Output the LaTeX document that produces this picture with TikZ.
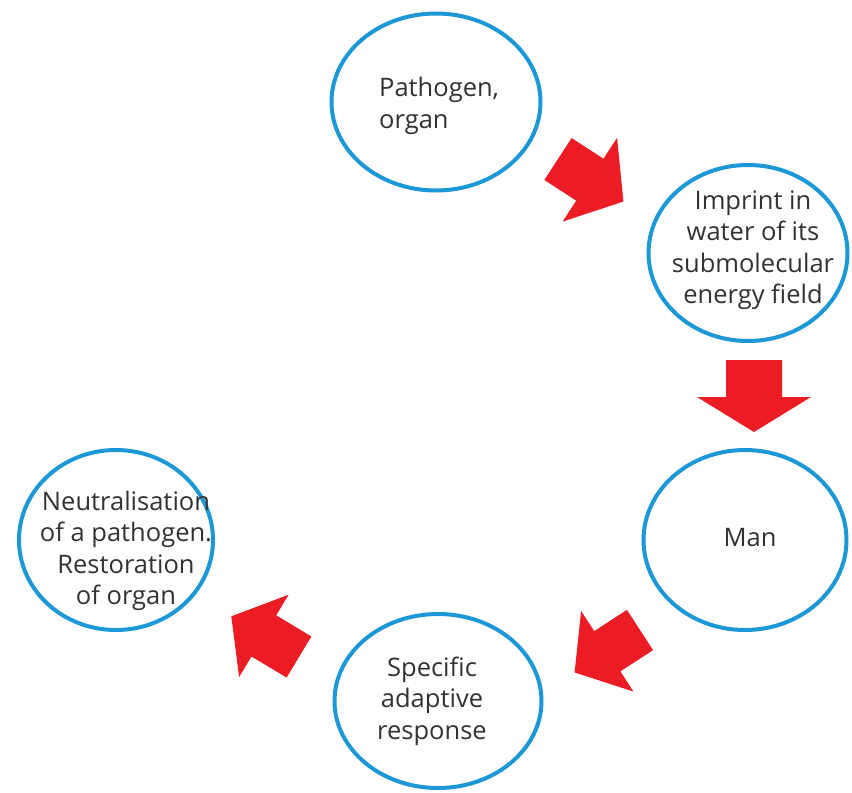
\documentclass[tikz,border=0pt]{standalone}
\usepackage{fontspec}
\setmainfont{Open Sans}
\usetikzlibrary{shapes.geometric}
\definecolor{ringblue}{RGB}{29,152,214}
\definecolor{arrowred}{RGB}{236,28,36}
\definecolor{txtgray}{RGB}{50,50,50}
% tail midpoint, angle, length, head length, shaft half width, head half width
\newcommand\blkarrow[6]{%
  \fill[arrowred, shift={#1}, rotate=#2] (0,-#5) -- ({#3-#4},-#5) -- ({#3-#4},-#6) -- (#3,0) -- ({#3-#4},#6) -- ({#3-#4},#5) -- (0,#5) -- cycle;}
\begin{document}
\begin{tikzpicture}[x=1pt,y=1pt,
  ring/.style={ellipse, draw=ringblue, line width=4pt, inner sep=0pt},
  lbl/.style={text=txtgray, font=\fontsize{25.5}{31.5}\selectfont, align=center, inner sep=0pt}]
\path[use as bounding box, fill=white] (0,0) rectangle (852,-793);

\node[ring, minimum width=209pt, minimum height=177pt] (c1) at (436,-102) {};
\node[ring, minimum width=199pt, minimum height=176pt] (c2) at (748,-253) {};
\node[ring, minimum width=203pt, minimum height=180pt] (c3) at (745,-540) {};
\node[ring, minimum width=207pt, minimum height=174pt] (c4) at (438,-701) {};
\node[ring, minimum width=194pt, minimum height=180pt] (c5) at (116,-540) {};

\node[lbl, align=left, anchor=west] (t1) at (379,-106) {Pathogen,\\organ};
\node[lbl] (t2) at (753,-250) {Imprint in\\water of its\\submolecular\\energy field};
\node[lbl] (t3) at (750,-538) {Man};
\node[lbl] (t4) at (432,-701) {Specific\\adaptive\\response};
\node[lbl] (t5) at (126,-551) {Neutralisation\\of a pathogen.\\Restoration\\of organ};

\blkarrow{(558,-159)}{-33}{78}{40}{25}{50}
\blkarrow{(754,-360)}{-90}{72}{35}{28}{57}
\blkarrow{(640,-630)}{213}{78}{39}{24}{48}
\blkarrow{(299,-657)}{149}{79}{38}{24}{48}
\end{tikzpicture}
\end{document}
